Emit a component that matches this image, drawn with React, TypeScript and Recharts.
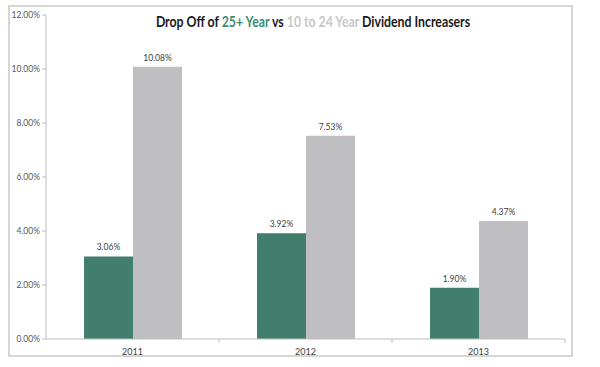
import React from 'react';
import { BarChart, Bar, XAxis, YAxis, LabelList } from 'recharts';

const years = ['2011', '2012', '2013'];
const longRun = [3.06, 3.92, 1.9]; // 25+ year increasers
const midRun = [10.08, 7.53, 4.37]; // 10 to 24 year increasers
const yTicks = [0, 2, 4, 6, 8, 10, 12];

const GREEN = '#417f6c';
const GRAY = '#bfbec0';
const FONT = 'Lato, "Open Sans", sans-serif';

const data = years.map((year, i) => ({ year, longRun: longRun[i], midRun: midRun[i] }));

const pct = (v: number) => `${v.toFixed(2)}%`;

// x tick label plus a small tick mark on the right edge of each category
const YearTick = (props: any) => {
  const { x, y, payload, index } = props;
  const half = payload.offset || 86;
  return (
    <g>
      <text x={x} y={y} dy={8} textAnchor="middle" fontSize={9} fill="#404040" fontFamily={FONT}>
        {payload.value}
      </text>
      {index < years.length && (
        <line x1={x + half} x2={x + half} y1={y - 8} y2={y - 4} stroke="#bfbfbf" />
      )}
    </g>
  );
};

export default function App() {
  return (
    <div style={{ position: 'absolute', left: 0, top: 0, width: 600, height: 367, background: '#fff' }}>
      <div
        style={{
          position: 'absolute',
          left: 8,
          top: 5,
          width: 561,
          height: 348,
          border: '2px solid #d6d6d6',
        }}
      />
      <div
        style={{
          position: 'absolute',
          left: 0,
          width: 626,
          top: 12,
          textAlign: 'center',
          fontFamily: FONT,
          fontWeight: 'bold',
          fontSize: 15,
          color: '#1a1a1a',
          transform: 'scaleX(0.82)',
          transformOrigin: '313px 0',
          whiteSpace: 'nowrap',
        }}
      >
        Drop Off of <span style={{ color: '#3f8a72' }}>25+ Year</span> vs{' '}
        <span style={{ color: '#c8c8c8' }}>10 to 24 Year</span> Dividend Increasers
      </div>
      <div style={{ position: 'absolute', left: 0, top: 0 }}>
        <BarChart
          width={600}
          height={367}
          data={data}
          margin={{ top: 15, right: 35, left: 10, bottom: 0 }}
          barGap={0}
          barSize={49}
        >
          <XAxis
            dataKey="year"
            height={28}
            stroke="#bfbfbf"
            tickLine={false}
            tick={<YearTick />}
          />
          <YAxis
            width={36}
            domain={[0, 12]}
            ticks={yTicks}
            tickFormatter={pct}
            tickSize={4}
            tickMargin={2}
            stroke="#bfbfbf"
            tick={{ fontSize: 8.5, fill: '#595959', fontFamily: FONT }}
          />
          <Bar dataKey="longRun" fill={GREEN} isAnimationActive={false}>
            <LabelList dataKey="longRun" position="top" offset={6} formatter={(v: any) => pct(Number(v))} style={{ fontSize: 8.5, fill: '#404040', fontFamily: FONT }} />
          </Bar>
          <Bar dataKey="midRun" fill={GRAY} isAnimationActive={false}>
            <LabelList dataKey="midRun" position="top" offset={6} formatter={(v: any) => pct(Number(v))} style={{ fontSize: 8.5, fill: '#404040', fontFamily: FONT }} />
          </Bar>
        </BarChart>
      </div>
    </div>
  );
}
